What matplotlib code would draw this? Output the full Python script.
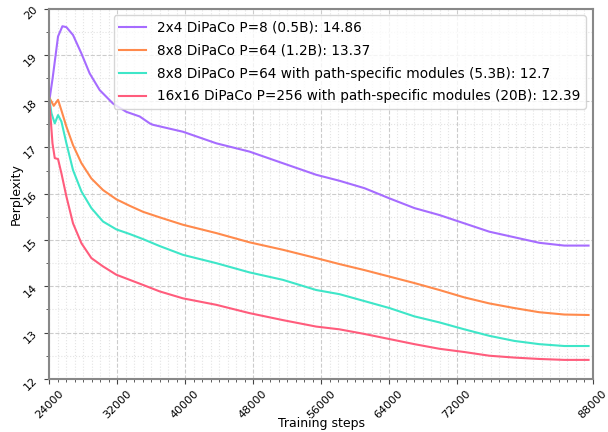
import numpy as np
import matplotlib
matplotlib.use("Agg")
import matplotlib.pyplot as plt
from matplotlib.ticker import MultipleLocator

# perplexity curves
steps_a = [24000, 24400, 25035, 25550, 26020, 26800, 27790, 28760, 29940, 31500,
           33080, 34650, 35840, 36210, 39740, 43670, 47590, 51500, 55430, 58180,
           61120, 64060, 67000, 69940, 72880, 75820, 78760, 81700, 84640, 87500]
ppl_a = [18.0, 18.5, 19.4, 19.62, 19.6, 19.43, 19.03, 18.6, 18.24, 17.95,
         17.77, 17.67, 17.52, 17.49, 17.34, 17.09, 16.91, 16.66, 16.41, 16.28,
         16.12, 15.9, 15.69, 15.54, 15.36, 15.18, 15.06, 14.94, 14.88, 14.88]

steps_b = [24000, 24530, 25035, 25435, 26020, 26800, 27790, 28960, 30330, 31900,
           33470, 35040, 37000, 39740, 43670, 47590, 51500, 55430, 58180, 61120,
           64060, 67000, 69940, 72880, 75820, 78760, 81700, 84640, 87500]
ppl_b = [18.08, 17.9, 18.03, 17.8, 17.45, 17.05, 16.66, 16.33, 16.08, 15.88,
         15.74, 15.61, 15.49, 15.33, 15.15, 14.95, 14.79, 14.61, 14.48, 14.35,
         14.21, 14.07, 13.92, 13.76, 13.63, 13.53, 13.44, 13.39, 13.38]

steps_c = [24000, 24260, 24650, 25035, 25435, 26020, 26800, 27790, 28960, 30330,
           31900, 33470, 35040, 37000, 39740, 43670, 47590, 51500, 55430, 58180,
           61120, 64060, 67000, 69940, 72880, 75820, 78760, 81700, 84640, 87500]
ppl_c = [18.06, 17.74, 17.52, 17.7, 17.56, 17.09, 16.51, 16.05, 15.69, 15.4,
         15.23, 15.13, 15.02, 14.87, 14.68, 14.5, 14.3, 14.14, 13.92, 13.83,
         13.68, 13.53, 13.35, 13.22, 13.07, 12.93, 12.82, 12.75, 12.71, 12.71]

steps_d = [24000, 24180, 24380, 24650, 25035, 25435, 26020, 26800, 27790, 28960,
           30330, 31900, 33470, 35040, 37000, 39740, 43670, 47590, 51500, 55430,
           58180, 61120, 64060, 67000, 69940, 72880, 75820, 78760, 81700, 84640, 87500]
ppl_d = [18.0, 17.59, 17.09, 16.77, 16.75, 16.44, 15.94, 15.36, 14.93, 14.61,
         14.43, 14.25, 14.14, 14.03, 13.89, 13.74, 13.6, 13.42, 13.27, 13.13,
         13.07, 12.97, 12.86, 12.75, 12.65, 12.58, 12.5, 12.46, 12.43, 12.41, 12.41]

labels = ["2x4 DiPaCo P=8 (0.5B): 14.86",
          "8x8 DiPaCo P=64 (1.2B): 13.37",
          "8x8 DiPaCo P=64 with path-specific modules (5.3B): 12.7",
          "16x16 DiPaCo P=256 with path-specific modules (20B): 12.39"]
colors = ["#a66cff", "#ff8a4c", "#3ee6c8", "#ff5c7c"]

# the reference labels these steps (80000 is skipped)
xticks = [24000, 32000, 40000, 48000, 56000, 64000, 72000, 88000]

fig = plt.figure(figsize=(6.08, 4.32), dpi=100)
ax = fig.add_axes([0.081, 0.123, 0.894, 0.857])

series = [(steps_a, ppl_a), (steps_b, ppl_b), (steps_c, ppl_c), (steps_d, ppl_d)]
for (xs, ys), lab, col in zip(series, labels, colors):
    ax.plot(xs, ys, color=col, lw=1.5, label=lab)

ax.set_xlim(24000, 88000)
ax.set_ylim(12, 20)
ax.set_xticks(xticks)
ax.xaxis.set_minor_locator(MultipleLocator(1000))
ax.yaxis.set_major_locator(MultipleLocator(1))
ax.yaxis.set_minor_locator(MultipleLocator(0.5))
ax.grid(which="major", color="#cccccc", linestyle="--", linewidth=0.8)
ax.grid(which="minor", color="#e4e4e4", linestyle=":", linewidth=0.8)
ax.set_axisbelow(True)

for sp in ax.spines.values():
    sp.set_color("#888888")
    sp.set_linewidth(1.5)
ax.tick_params(which="both", colors="#444444", labelcolor="black", labelsize=8)
ax.tick_params(which="minor", length=2)
plt.setp(ax.get_xticklabels(), rotation=45)
plt.setp(ax.get_yticklabels(), rotation=45)

ax.set_xlabel("Training steps", fontsize=9)
ax.xaxis.set_label_coords(0.5, -0.103)
ax.set_ylabel("Perplexity", fontsize=9)
ax.yaxis.set_label_coords(-0.049, 0.5)
ax.legend(loc="upper right", fontsize=9.8, handlelength=2.0, labelspacing=0.65,
          borderaxespad=0.5)

fig.savefig("out.png", dpi=100)
